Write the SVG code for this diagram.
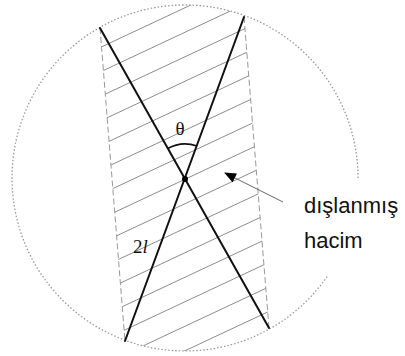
<svg xmlns="http://www.w3.org/2000/svg" width="405" height="356" viewBox="0 0 405 356">
  <style>
    .circle { fill: none; stroke: #999; stroke-width: 1.3; stroke-dasharray: 1.5 2; }
    .hatch { stroke: #8c8c8c; stroke-width: 1; fill: none; }
    .dash { stroke: #999; stroke-width: 1; stroke-dasharray: 6 3; fill: none; }
    .rod { stroke: #111; stroke-width: 2; fill: none; stroke-linecap: round; }
    .label { font-family: "Liberation Sans", Arial, sans-serif; font-size: 22px; fill: #111; }
    .math { font-family: "Liberation Serif", "Times New Roman", serif; font-size: 19px; fill: #111; }
  </style>
  <defs>
    <clipPath id="circClip"><circle cx="185" cy="178" r="173"/></clipPath>
    <clipPath id="bandClip"><polygon points="97.8,0 242.6,0 271.3,356 126.2,356"/></clipPath>
    <marker id="arrow" viewBox="0 0 12 10" refX="11" refY="5" markerWidth="12" markerHeight="10" markerUnits="userSpaceOnUse" orient="auto">
      <path d="M0,0 L12,5 L0,10 z" fill="#000"/>
    </marker>
  </defs>

  <g id="excluded-volume">
    <g clip-path="url(#circClip)">
      <g clip-path="url(#bandClip)">
        <g class="hatch">
          <line x1="80" y1="32.5" x2="290" y2="-66"/>
          <line x1="80" y1="57" x2="290" y2="-41.5"/>
          <line x1="80" y1="81.5" x2="290" y2="-17"/>
          <line x1="80" y1="106" x2="290" y2="7.5"/>
          <line x1="80" y1="130.5" x2="290" y2="32"/>
          <line x1="80" y1="155" x2="290" y2="56.5"/>
          <line x1="80" y1="179.5" x2="290" y2="81"/>
          <line x1="80" y1="204" x2="290" y2="105.5"/>
          <line x1="80" y1="228.5" x2="290" y2="130"/>
          <line x1="80" y1="253" x2="290" y2="154.5"/>
          <line x1="80" y1="277.5" x2="290" y2="179"/>
          <line x1="80" y1="302" x2="290" y2="203.5"/>
          <line x1="80" y1="326.5" x2="290" y2="228"/>
          <line x1="80" y1="351" x2="290" y2="252.5"/>
          <line x1="80" y1="375.5" x2="290" y2="277"/>
          <line x1="80" y1="400" x2="290" y2="301.5"/>
          <line x1="80" y1="424.5" x2="290" y2="326"/>
          <line x1="80" y1="449" x2="290" y2="350.5"/>
          <line x1="80" y1="8" x2="290" y2="-90.5"/>
        </g>
      </g>
    </g>
    <line class="dash" x1="100" y1="28" x2="125" y2="341"/>
    <line class="dash" x1="244" y1="17" x2="269" y2="328"/>
  </g>

  <g id="sphere">
    <path class="circle" d="M358,178 A173,173 0 1 0 327.2,276.5"/>
  </g>

  <g id="rods">
    <line class="rod" x1="100" y1="28" x2="269" y2="328"/>
    <line class="rod" x1="244" y1="17" x2="125" y2="341"/>
    <circle cx="185" cy="179" r="3" fill="#000"/>
    <path d="M167.8,148.5 A35,35 0 0 1 197,146.1" fill="none" stroke="#111" stroke-width="1.6"/>
    <text class="math" x="180" y="135" text-anchor="middle">θ</text>
    <text class="math" x="133" y="253">2<tspan font-style="italic">l</tspan></text>
  </g>

  <g id="connectors">
    <line x1="283" y1="202" x2="225" y2="173" stroke="#666" stroke-width="1" marker-end="url(#arrow)"/>
  </g>

  <g id="label">
    <text class="label" x="304" y="213">dışlanmış</text>
    <text class="label" x="304" y="248">hacim</text>
  </g>
</svg>
